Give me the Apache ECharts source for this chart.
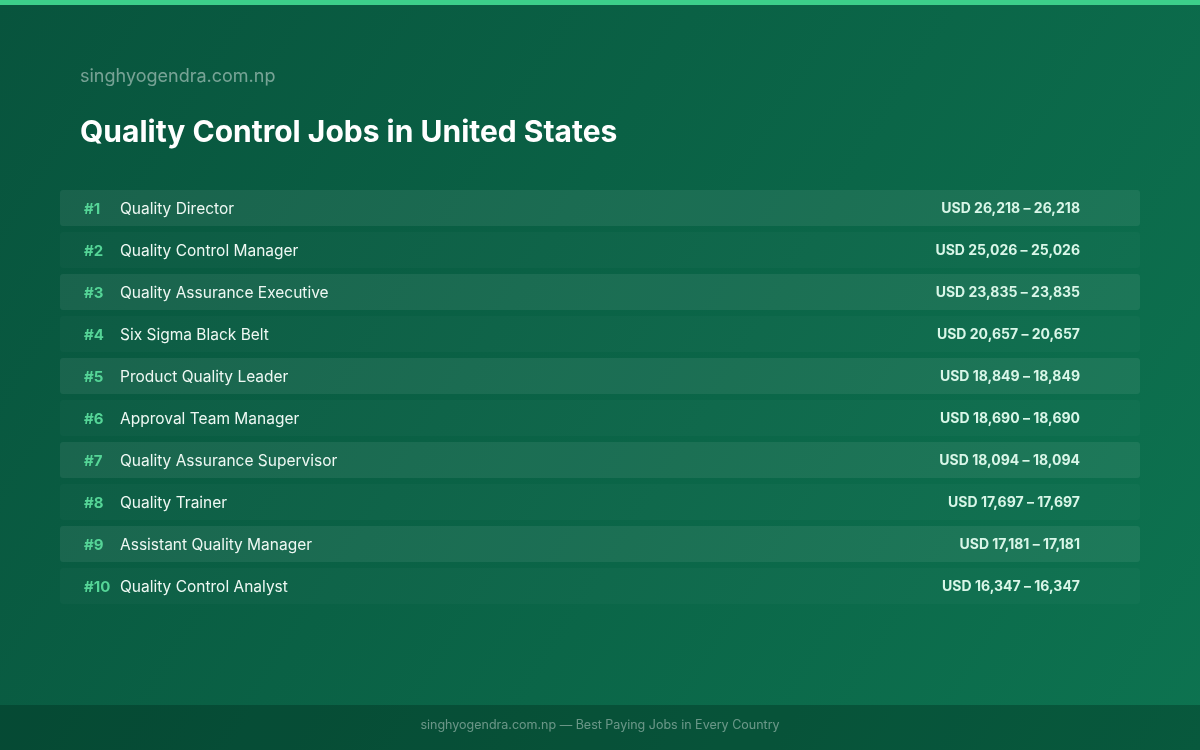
<!DOCTYPE html><html><head><meta charset="utf-8">
<script src="https://cdn.jsdelivr.net/npm/echarts@6/dist/echarts.min.js"></script>
<style>html,body{margin:0;padding:0;}#c{width:1200px;height:750px;}</style></head><body><div id="c"></div>
<script>
const jobs=["Quality Director","Quality Control Manager","Quality Assurance Executive","Six Sigma Black Belt","Product Quality Leader","Approval Team Manager","Quality Assurance Supervisor","Quality Trainer","Assistant Quality Manager","Quality Control Analyst"];
const salaryMin=[26218,25026,23835,20657,18849,18690,18094,17697,17181,16347];
const salaryMax=[26218,25026,23835,20657,18849,18690,18094,17697,17181,16347];
const fmt=v=>v.toLocaleString('en-US');
const chart=echarts.init(document.getElementById('c'));
const F='Inter, "Noto Sans", sans-serif';
chart.setOption({
 backgroundColor:{type:'linear',x:0,y:0,x2:1,y2:1,colorStops:[{offset:0,color:'#08543d'},{offset:1,color:'#0d7350'}]},
 graphic:[
  {type:'rect',left:0,top:0,shape:{width:1200,height:5},style:{fill:'#3ccf8a'}},
  {type:'rect',left:0,top:705,shape:{width:1200,height:45},style:{fill:'rgba(0,40,25,0.35)'}},
  {type:'text',left:80,top:68,style:{text:'singhyogendra.com.np',fill:'rgba(255,255,255,0.45)',font:'18px '+F}},
  {type:'text',left:80,top:118,style:{text:'Quality Control Jobs in United States',fill:'#ffffff',font:'bold 30px '+F}},
  {type:'text',left:'center',top:719,style:{text:'singhyogendra.com.np — Best Paying Jobs in Every Country',fill:'rgba(255,255,255,0.4)',font:'12.5px '+F}}
 ],
 grid:{left:60,right:60,top:187,height:420},
 xAxis:{type:'value',min:0,max:1,show:false},
 yAxis:{type:'category',inverse:true,data:jobs,show:false},
 series:[
  {type:'bar',barWidth:36,silent:true,
   data:jobs.map((j,i)=>({value:1,itemStyle:{color:i%2===0?'rgba(255,255,255,0.07)':'rgba(255,255,255,0.025)',borderRadius:3}})),
   label:{show:true,position:'insideLeft',distance:24,offset:[0,1],formatter:p=>'{r|#'+(p.dataIndex+1)+'}{n|'+jobs[p.dataIndex]+'}',
    rich:{r:{color:'#55d597',fontWeight:'bold',fontSize:15,fontFamily:F,width:36},n:{color:'#eef8f3',fontSize:15.5,fontFamily:F}}}},
  {type:'bar',barWidth:36,barGap:'-100%',silent:true,
   data:jobs.map(()=>({value:1,itemStyle:{color:'rgba(0,0,0,0)'}})),
   label:{show:true,position:'insideRight',distance:60,offset:[0,1],formatter:p=>'USD '+fmt(salaryMin[p.dataIndex])+' – '+fmt(salaryMax[p.dataIndex]),
    color:'#d9f6e8',fontWeight:'bold',fontSize:14,fontFamily:F}}
 ]
});
</script></body></html>
